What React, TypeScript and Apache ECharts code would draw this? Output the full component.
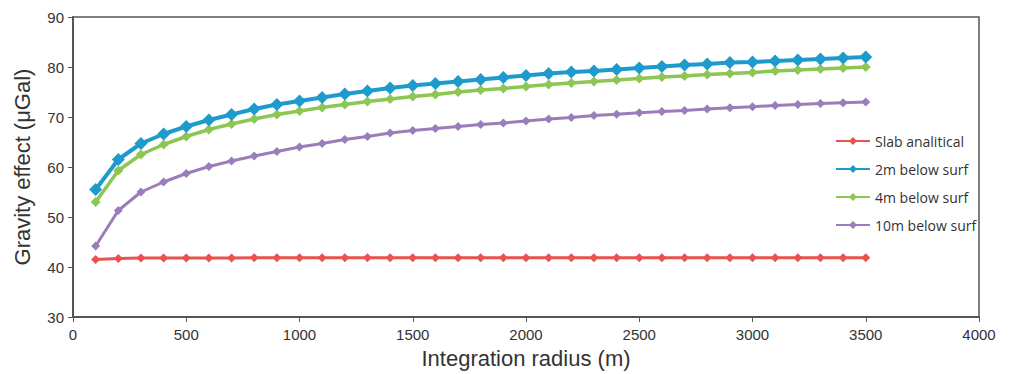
import React, { useEffect, useRef } from "react";
import * as echarts from "echarts";

const radius = [100, 200, 300, 400, 500, 600, 700, 800, 900, 1000, 1100, 1200, 1300, 1400, 1500, 1600, 1700, 1800, 1900, 2000, 2100, 2200, 2300, 2400, 2500, 2600, 2700, 2800, 2900, 3000, 3100, 3200, 3300, 3400, 3500];

const slab = [41.5, 41.7, 41.8, 41.8, 41.8, 41.8, 41.8, 41.85, 41.85, 41.85, 41.85, 41.85, 41.85, 41.85, 41.85, 41.85, 41.85, 41.85, 41.85, 41.85, 41.85, 41.85, 41.85, 41.85, 41.85, 41.85, 41.85, 41.85, 41.85, 41.85, 41.85, 41.85, 41.85, 41.85, 41.85];

const below2 = [55.5, 61.5, 64.7, 66.6, 68.1, 69.4, 70.5, 71.6, 72.5, 73.2, 73.9, 74.6, 75.2, 75.8, 76.3, 76.7, 77.1, 77.5, 77.9, 78.3, 78.7, 79.0, 79.2, 79.5, 79.8, 80.1, 80.4, 80.6, 80.9, 81.0, 81.2, 81.4, 81.6, 81.8, 82.0];

const below4 = [53.0, 59.3, 62.5, 64.5, 66.1, 67.5, 68.6, 69.6, 70.5, 71.2, 71.9, 72.5, 73.1, 73.6, 74.1, 74.5, 75.0, 75.4, 75.7, 76.1, 76.5, 76.8, 77.1, 77.4, 77.7, 78.0, 78.2, 78.5, 78.7, 78.9, 79.2, 79.4, 79.6, 79.8, 80.0];

const below10 = [44.2, 51.3, 55.0, 57.0, 58.7, 60.1, 61.2, 62.2, 63.1, 64.0, 64.7, 65.5, 66.1, 66.8, 67.3, 67.7, 68.1, 68.5, 68.8, 69.2, 69.6, 69.9, 70.3, 70.55, 70.85, 71.1, 71.3, 71.6, 71.85, 72.05, 72.3, 72.5, 72.7, 72.85, 73.0];

const xTicks = [0, 500, 1000, 1500, 2000, 2500, 3000, 3500, 4000];
const yTicks = [30, 40, 50, 60, 70, 80, 90];

const seriesNames = ["Slab analitical", "2m below surf", "4m below surf", "10m below surf"];
const seriesColors = ["#E9534F", "#1E9BCD", "#8DC653", "#9B7DB9"];
const seriesData = [slab, below2, below4, below10];
const lineWidths = [3, 4, 3.5, 3];
const symbolSizes = [9, 13, 10, 9];

export default function App() {
  const ref = useRef<HTMLDivElement>(null);
  useEffect(() => {
    if (!ref.current) return;
    const chart = echarts.init(ref.current, null, { renderer: "svg" });
    const axisColor = "#555555";
    chart.setOption({
      animation: false,
      backgroundColor: "#ffffff",
      grid: {
        left: 73,
        right: 31,
        top: 17,
        bottom: 53,
        show: true,
        borderColor: axisColor,
        borderWidth: 1.5,
        backgroundColor: "transparent",
      },
      legend: {
        orient: "vertical",
        left: 830,
        top: 129,
        itemWidth: 34,
        itemHeight: 10,
        itemGap: 14,
        textStyle: { fontFamily: "Open Sans", fontSize: 14, color: "#333" },
        data: seriesNames,
      },
      xAxis: {
        type: "value",
        min: xTicks[0],
        max: xTicks[xTicks.length - 1],
        interval: 500,
        name: "Integration radius (m)",
        nameLocation: "middle",
        nameGap: 30,
        nameTextStyle: { fontFamily: "Liberation Sans", fontSize: 22, color: "#333" },
        axisLine: { show: true, lineStyle: { color: axisColor, width: 2 } },
        axisTick: { show: true, length: 5, lineStyle: { color: axisColor, width: 1 } },
        axisLabel: {
          fontFamily: "Liberation Sans",
          fontSize: 15,
          color: "#333",
          margin: 10,
          formatter: (v: number) => String(v),
        },
        splitLine: { show: false },
      },
      yAxis: {
        type: "value",
        min: yTicks[0],
        max: yTicks[yTicks.length - 1],
        interval: 10,
        name: "Gravity effect (\u03bcGal)",
        nameLocation: "middle",
        nameGap: 40,
        nameTextStyle: { fontFamily: "Liberation Sans", fontSize: 22, color: "#333" },
        axisLine: { show: true, lineStyle: { color: axisColor, width: 2 } },
        axisTick: { show: true, length: 5, lineStyle: { color: axisColor, width: 1 } },
        axisLabel: {
          fontFamily: "Liberation Sans",
          fontSize: 15,
          color: "#333",
          margin: 9,
          formatter: (v: number) => String(v),
        },
        splitLine: { show: false },
      },
      series: seriesNames.map((name, i) => ({
        name,
        type: "line",
        data: radius.map((r, j) => [r, seriesData[i][j]]),
        symbol: "diamond",
        symbolSize: symbolSizes[i],
        showSymbol: true,
        color: seriesColors[i],
        lineStyle: { color: seriesColors[i], width: lineWidths[i] },
        itemStyle: { color: seriesColors[i] },
        z: 2 + (3 - i),
      })),
    });
    return () => chart.dispose();
  }, []);
  return (
    <div
      ref={ref}
      style={{ position: "fixed", left: 0, top: 0, width: 1010, height: 374 }}
    />
  );
}
